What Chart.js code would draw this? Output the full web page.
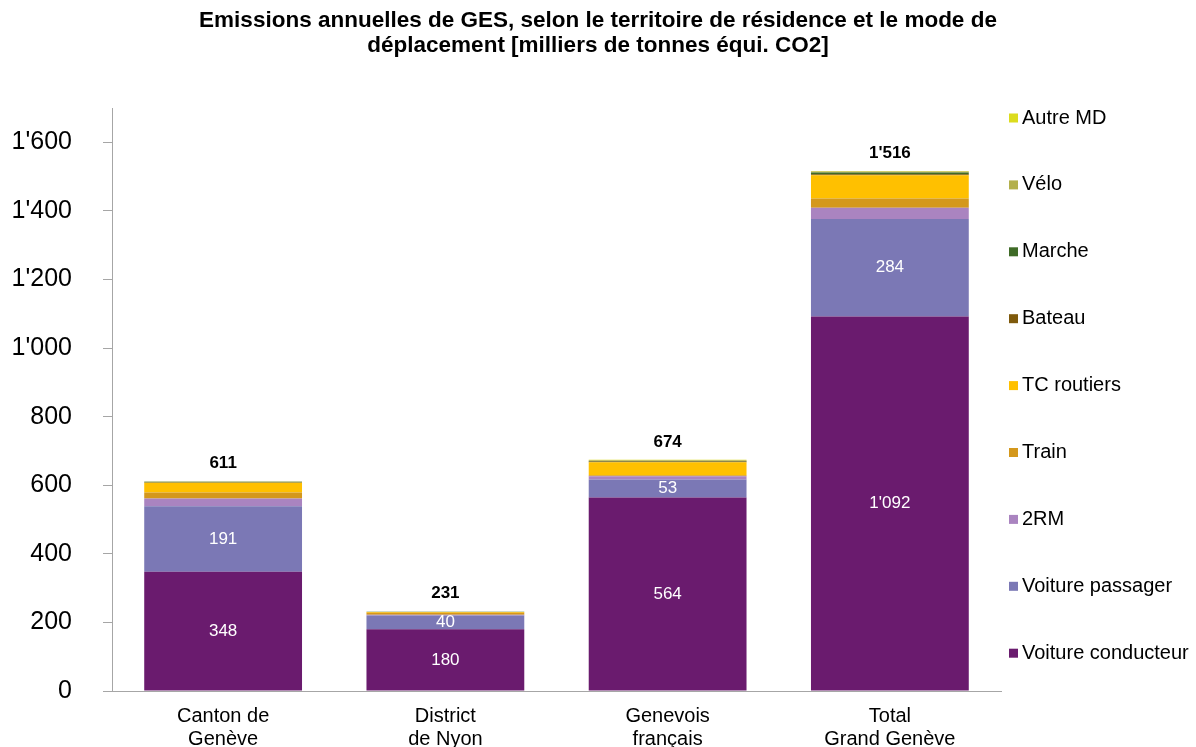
<!DOCTYPE html>
<html>
<head>
<meta charset="utf-8">
<script src="https://cdn.jsdelivr.net/npm/chart.js@4/dist/chart.umd.min.js"></script>
<style>
  html, body { margin: 0; padding: 0; background: #ffffff; }
  #wrap { width: 1196px; height: 747px; }
</style>
</head>
<body>
<div id="wrap"><canvas id="ges" width="1196" height="747"></canvas></div>
<script>
// Territoires de résidence (libellés sur deux lignes)
const categories = [
  ['Canton de', 'Genève'],
  ['District', 'de Nyon'],
  ['Genevois', 'français'],
  ['Total', 'Grand Genève']
];

// Emissions par mode de déplacement [milliers de tonnes équi. CO2]
const voitureConducteur = [348, 180, 564, 1092];
const voiturePassager   = [191, 40, 53, 284];
const deuxRoues         = [22, 2, 9, 33];
const train             = [18, 6, 3, 27];
const tcRoutiers        = [28, 2, 38, 68];
const bateau            = [1, 0, 2, 3];
const marche            = [2, 1, 2, 5];
const velo              = [1, 0, 2, 3];
const autreMD           = [0, 0, 1, 1];

// Graduations de l'axe vertical
const yTicks = [0, 200, 400, 600, 800, 1000, 1200, 1400, 1600];
const yMax = 1700;

const titleLines = [
  'Emissions annuelles de GES, selon le territoire de résidence et le mode de',
  'déplacement [milliers de tonnes équi. CO2]'
];

const FONT = '"Liberation Sans", Arial, Helvetica, sans-serif';

function fmt(v) {
  return Math.round(v).toString().replace(/\B(?=(\d{3})+(?!\d))/g, "'");
}

const series = [
  { label: 'Voiture conducteur', data: voitureConducteur, color: '#6A1B6E' },
  { label: 'Voiture passager',   data: voiturePassager,   color: '#7B78B5' },
  { label: '2RM',                data: deuxRoues,         color: '#AA84C0' },
  { label: 'Train',              data: train,             color: '#D4981C' },
  { label: 'TC routiers',        data: tcRoutiers,        color: '#FFC000' },
  { label: 'Bateau',             data: bateau,            color: '#7F5A0C' },
  { label: 'Marche',             data: marche,            color: '#3F6B27' },
  { label: 'Vélo',               data: velo,              color: '#B3B04C' },
  { label: 'Autre MD',           data: autreMD,           color: '#DCDC1E' }
];

const totals = categories.map((_, i) => series.reduce((s, d) => s + d.data[i], 0));

// Titre centré sur toute la largeur
const titlePlugin = {
  id: 'centerTitle',
  afterDraw(chart) {
    const ctx = chart.ctx;
    ctx.save();
    ctx.fillStyle = '#000000';
    ctx.font = 'bold 22.5px ' + FONT;
    ctx.textAlign = 'center';
    ctx.textBaseline = 'middle';
    ctx.fillText(titleLines[0], chart.width / 2, 21);
    ctx.fillText(titleLines[1], chart.width / 2, 46);
    ctx.restore();
  }
};

// Valeurs dans les segments voiture et totaux au-dessus des barres
const valuePlugin = {
  id: 'valueLabels',
  afterDatasetsDraw(chart) {
    const ctx = chart.ctx;
    const y = chart.scales.y;
    ctx.save();
    ctx.textAlign = 'center';
    ctx.textBaseline = 'middle';
    ctx.font = '17px ' + FONT;
    ctx.fillStyle = '#ffffff';
    [0, 1].forEach(di => {
      const meta = chart.getDatasetMeta(di);
      meta.data.forEach((bar, i) => {
        const v = chart.data.datasets[di].data[i];
        ctx.fillText(fmt(v), bar.x, (bar.y + bar.base) / 2);
      });
    });
    ctx.font = 'bold 17px ' + FONT;
    ctx.fillStyle = '#000000';
    const meta0 = chart.getDatasetMeta(0);
    totals.forEach((t, i) => {
      ctx.fillText(fmt(t), meta0.data[i].x, y.getPixelForValue(t) - 18);
    });
    ctx.restore();
  }
};

// Légende verticale à droite, ordre inverse de l'empilement
const legendPlugin = {
  id: 'sideLegend',
  afterDraw(chart) {
    const ctx = chart.ctx;
    const ds = chart.data.datasets;
    const x0 = 1009, top = 118, step = 66.9;
    ctx.save();
    ctx.font = '20px ' + FONT;
    ctx.textAlign = 'left';
    ctx.textBaseline = 'middle';
    for (let k = 0; k < ds.length; k++) {
      const d = ds[ds.length - 1 - k];
      const cy = top + k * step;
      ctx.fillStyle = d.backgroundColor;
      ctx.fillRect(x0, cy - 4.5, 9, 9);
      ctx.fillStyle = '#000000';
      ctx.fillText(d.label, x0 + 13, cy);
    }
    ctx.restore();
  }
};

new Chart(document.getElementById('ges'), {
  type: 'bar',
  data: {
    labels: categories,
    datasets: series.map(s => ({
      label: s.label,
      data: s.data,
      backgroundColor: s.color,
      borderWidth: 0,
      barPercentage: 0.71,
      categoryPercentage: 1.0
    }))
  },
  options: {
    responsive: false,
    animation: false,
    devicePixelRatio: 1,
    layout: { padding: { top: 108, left: 10, right: 195, bottom: 0 } },
    plugins: {
      legend: { display: false },
      title: { display: false },
      tooltip: { enabled: false }
    },
    scales: {
      x: {
        stacked: true,
        afterFit(scale) { scale.height = 56; },
        grid: { display: false, drawTicks: false },
        border: { display: true, color: '#A6A6A6', width: 1 },
        ticks: {
          color: '#000000',
          padding: 14,
          maxRotation: 0,
          autoSkip: false,
          font: { family: FONT, size: 20, lineHeight: 1.15 }
        }
      },
      y: {
        stacked: true,
        min: 0,
        max: yMax,
        afterFit(scale) { scale.width = 102; },
        afterBuildTicks(scale) {
          scale.ticks = yTicks.map(v => ({ value: v }));
        },
        grid: {
          display: true,
          drawOnChartArea: false,
          drawTicks: true,
          tickLength: 9,
          color: '#A6A6A6'
        },
        border: { display: true, color: '#A6A6A6', width: 1 },
        ticks: {
          color: '#000000',
          padding: 31,
          stepSize: 200,
          font: { family: FONT, size: 25 },
          callback: v => fmt(v)
        }
      }
    }
  },
  plugins: [titlePlugin, valuePlugin, legendPlugin]
});
</script>
</body>
</html>
